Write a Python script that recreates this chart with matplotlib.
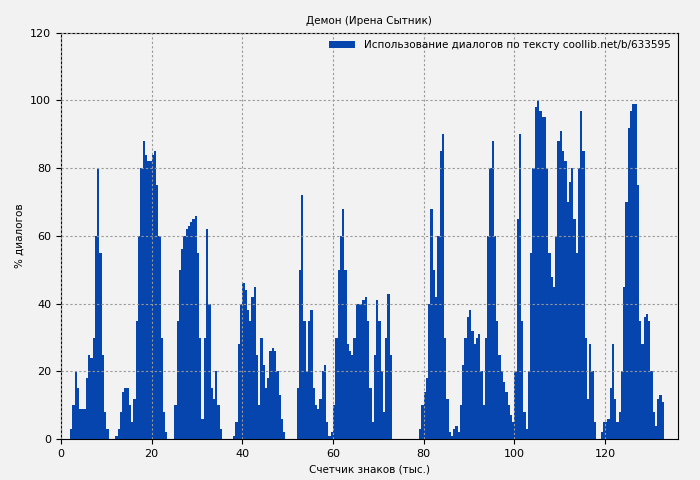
import numpy as np
import matplotlib.pyplot as plt

# dialogue share per 500 characters, starting at 2 thousand
start = 2.0
step = 0.5
values = [
    3, 10, 20, 15, 9, 9, 9, 18, 25, 24, 30, 60, 80, 55, 25, 8, 3, 0, 0, 0,
    1, 3, 8, 14, 15, 15, 10, 5, 12, 35, 60, 80, 88, 84, 82, 82, 84, 85, 75, 60,
    30, 8, 2, 0, 0, 0, 10, 35, 50, 56, 60, 62, 63, 64, 65, 66, 55, 30, 6, 30,
    62, 40, 15, 12, 20, 10, 3, 0, 0, 0, 0, 0, 1, 5, 28, 40, 46, 44, 38, 35,
    42, 45, 25, 10, 30, 22, 15, 18, 26, 27, 26, 20, 13, 6, 2, 0, 0, 0, 0, 0,
    15, 50, 72, 35, 20, 35, 38, 15, 10, 9, 12, 20, 22, 5, 1, 2, 10, 30, 50, 60,
    68, 50, 28, 26, 25, 30, 40, 40, 40, 41, 42, 35, 15, 5, 25, 41, 35, 20, 8, 30,
    43, 25, 0, 0, 0, 0, 0, 0, 0, 0, 0, 0, 0, 0, 3, 10, 14, 18, 40, 68,
    50, 42, 60, 85, 90, 30, 12, 2, 1, 3, 4, 2, 10, 22, 30, 36, 38, 32, 28, 30,
    31, 20, 10, 30, 60, 80, 88, 60, 35, 25, 20, 17, 14, 10, 7, 5, 20, 65, 90, 35,
    8, 3, 20, 55, 80, 98, 100, 97, 95, 95, 80, 55, 48, 45, 60, 88, 91, 85, 82, 70,
    76, 80, 65, 55, 80, 97, 85, 30, 12, 28, 20, 5, 0, 0, 2, 5, 5, 6, 15, 28,
    12, 5, 8, 20, 45, 70, 92, 97, 99, 99, 75, 35, 28, 36, 37, 35, 20, 8, 4, 12,
    13, 11,
]
x = start + step * np.arange(len(values))

fig, ax = plt.subplots(figsize=(7, 4.8), dpi=100)
fig.patch.set_facecolor("#f2f2f2")
ax.set_facecolor("#f2f2f2")

ax.bar(x, values, width=step, align="edge", color="#0645ad", linewidth=0,
       label="Использование диалогов по тексту coollib.net/b/633595")

ax.set_xlim(0, 136)
ax.set_ylim(0, 120)
ax.set_xticks(range(0, 121, 20))
ax.set_yticks(range(0, 121, 20))
ax.tick_params(labelsize=8)
ax.grid(True, color="#999999", linestyle=(0, (2, 2)), linewidth=0.8)
ax.set_axisbelow(False)
for b in ax.patches:
    b.set_zorder(1)

ax.set_title("Демон (Ирена Сытник)", fontsize=7.5)
ax.set_xlabel("Счетчик знаков (тыс.)", fontsize=7.5)
ax.set_ylabel("% диалогов", fontsize=7.5)
leg = ax.legend(loc="upper right", fontsize=7.5, frameon=False,
                handlelength=2.5, borderaxespad=0.3)

fig.subplots_adjust(left=0.087, right=0.968, top=0.932, bottom=0.085)
fig.savefig("out.png", dpi=100, facecolor=fig.get_facecolor())
